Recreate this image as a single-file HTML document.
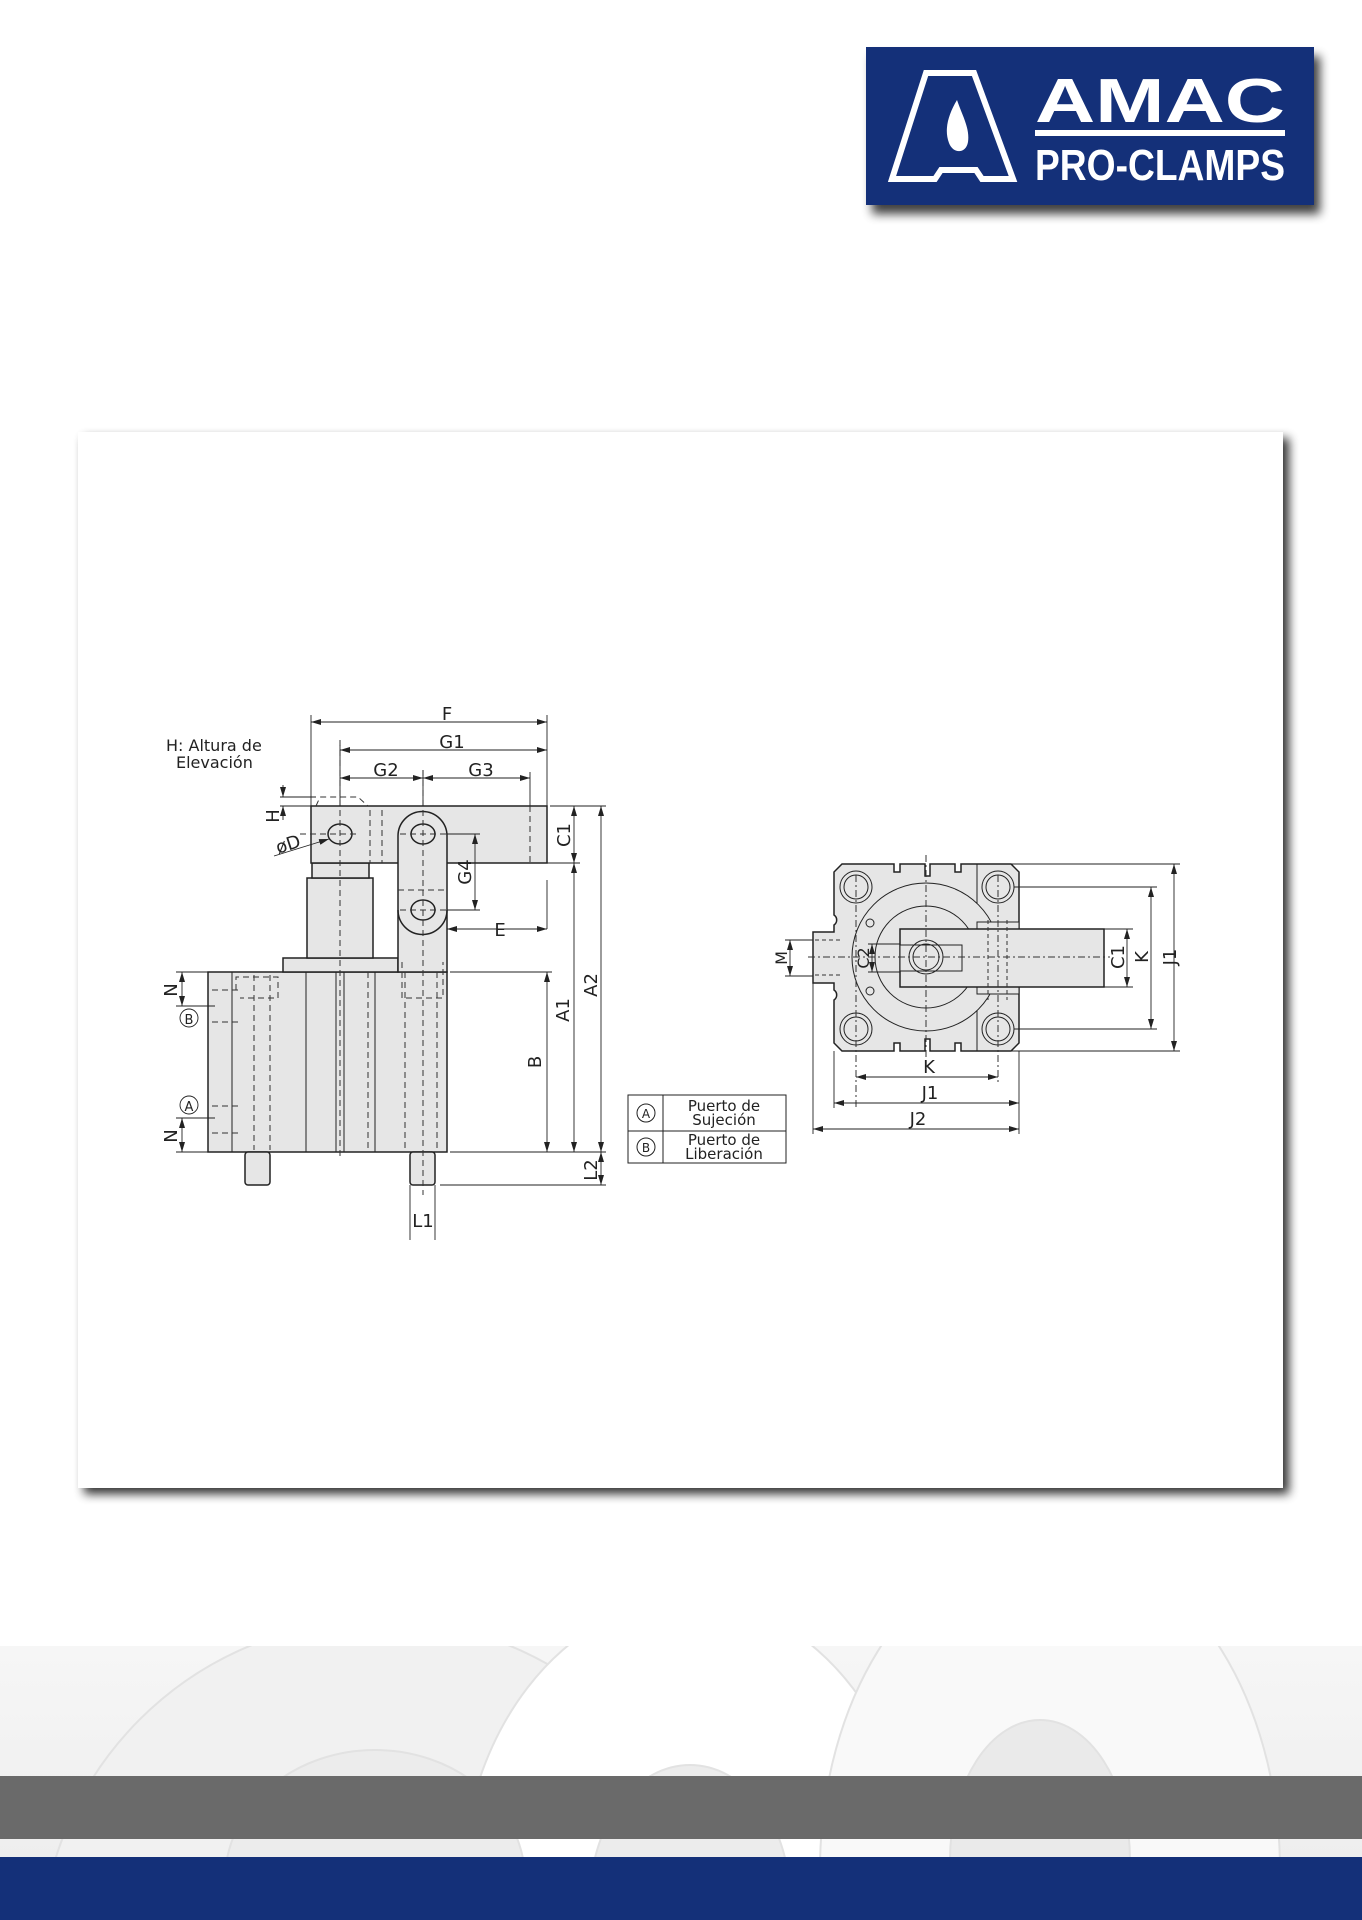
<!DOCTYPE html>
<html><head><meta charset="utf-8"><style>
html,body{margin:0;padding:0;background:#fff;}
body{width:1362px;height:1920px;position:relative;overflow:hidden;font-family:"Liberation Sans",sans-serif;}
svg{display:block;}
svg text{font-family:"DejaVu Sans","Liberation Sans",sans-serif;fill:#222;}
</style></head><body>
<svg width="1362" height="1920" viewBox="0 0 1362 1920" xmlns="http://www.w3.org/2000/svg">
<defs>
<marker id="a" viewBox="0 0 10 6" refX="10" refY="3" markerWidth="10" markerHeight="6" orient="auto-start-reverse" markerUnits="userSpaceOnUse"><path d="M0,0L10,3L0,6z" fill="#222"/></marker>
<filter id="sh" x="-10%" y="-10%" width="130%" height="140%"><feGaussianBlur stdDeviation="5"/></filter>
<linearGradient id="bg" x1="0" y1="0" x2="0" y2="1"><stop offset="0" stop-color="#f6f6f6"/><stop offset="1" stop-color="#ececec"/></linearGradient>
<clipPath id="bc"><rect x="0" y="1646" width="1362" height="274"/></clipPath>
</defs>
<!-- bottom decoration -->
<rect x="0" y="1646" width="1362" height="274" fill="url(#bg)"/>
<g fill="#fff" stroke="#e2e2e2" stroke-width="2" clip-path="url(#bc)">
<ellipse cx="380" cy="1960" rx="340" ry="340" fill="#f1f1f1"/>
<ellipse cx="690" cy="1900" rx="230" ry="300"/>
<ellipse cx="690" cy="1900" rx="100" ry="135" fill="#ececec"/>
<ellipse cx="1050" cy="1870" rx="230" ry="330" fill="#f9f9f9"/>
<ellipse cx="375" cy="1880" rx="150" ry="130" fill="#ececec"/>
<ellipse cx="1040" cy="1860" rx="90" ry="140" fill="#eaeaea"/>
</g>
<rect x="0" y="1776" width="1362" height="63" fill="#6a6a6a"/>
<rect x="0" y="1857" width="1362" height="63" fill="#143079"/>

<!-- logo -->
<rect x="872" y="56" width="448" height="158" fill="#000" opacity="0.75" filter="url(#sh)"/>
<rect x="866" y="47" width="448" height="158" fill="#143079"/>
<path d="M926,73 L974,73 L1013,179 L982,179 L976,170 L941,170 L935,179 L892,179 Z" fill="none" stroke="#fff" stroke-width="6"/>
<path d="M957,100 C948,115 944,130 949,143 C953,154 966,154 968,142 C970,128 962,115 957,100 Z" fill="#fff"/>
<text x="1035" y="122" style="font-family:'Liberation Sans',sans-serif;font-weight:bold;font-size:62px;fill:#fff" textLength="250" lengthAdjust="spacingAndGlyphs">AMAC</text>
<rect x="1035" y="130" width="250" height="6" fill="#fff"/>
<text x="1035" y="180" style="font-family:'Liberation Sans',sans-serif;font-weight:bold;font-size:44px;fill:#fff" textLength="250" lengthAdjust="spacingAndGlyphs">PRO-CLAMPS</text>

<!-- panel -->
<rect x="84" y="438" width="1205" height="1056" fill="#000" opacity="0.8" filter="url(#sh)"/>
<rect x="78" y="432" width="1205" height="1056" fill="#fff"/>

<!-- LEFT VIEW -->
<g stroke="#222" stroke-width="1.5" fill="#e6e6e6">
<rect x="208" y="972" width="239" height="180"/>
<rect x="283" y="958" width="115" height="14"/>
<rect x="307" y="878" width="66" height="80"/>
<rect x="312" y="863" width="57" height="15"/>
<rect x="311" y="806" width="236" height="57"/>
<path d="M398,972 L398,836 A24.5,24.5 0 0 1 447,836 L447,972 Z"/>
<path d="M398,910 A24.5,24.5 0 0 0 447,910" fill="none"/>
<rect x="245" y="1152" width="25" height="33" rx="3"/>
<rect x="410" y="1152" width="25" height="33" rx="3"/>
<ellipse cx="340" cy="834" rx="12" ry="10"/>
<ellipse cx="423" cy="834" rx="12" ry="10"/>
<ellipse cx="423" cy="910" rx="12" ry="10"/>
</g>
<g stroke="#222" stroke-width="1" fill="none">
<line x1="232" y1="972" x2="232" y2="1152"/><line x1="306" y1="972" x2="306" y2="1152"/>
<line x1="336" y1="972" x2="336" y2="1152"/><line x1="344" y1="972" x2="344" y2="1152"/>
<line x1="375" y1="972" x2="375" y2="1152"/>
</g>
<g stroke="#333" stroke-width="1" fill="none" stroke-dasharray="6,4">
<line x1="340" y1="740" x2="340" y2="1160"/><line x1="423" y1="770" x2="423" y2="1195"/>
<line x1="254" y1="975" x2="254" y2="1150"/><line x1="270" y1="975" x2="270" y2="1150"/>
<line x1="405" y1="972" x2="405" y2="1150"/><line x1="437" y1="972" x2="437" y2="1150"/>
<line x1="368" y1="972" x2="368" y2="1150"/>
<path d="M236,990 L236,977 L278,977 L278,998 L240,998"/>
<path d="M402,962 L402,998 L443,998 L443,962"/>
<line x1="212" y1="990" x2="240" y2="990"/><line x1="212" y1="1022" x2="240" y2="1022"/>
<line x1="212" y1="1106" x2="240" y2="1106"/><line x1="212" y1="1133" x2="240" y2="1133"/>
<path d="M316,806 L320,797 L358,797 L368,806"/>
<line x1="370" y1="810" x2="370" y2="863"/><line x1="382" y1="810" x2="382" y2="863"/>
<line x1="530" y1="806" x2="530" y2="863"/>
<line x1="398" y1="890" x2="447" y2="890"/>
<line x1="300" y1="834" x2="360" y2="834"/><line x1="400" y1="834" x2="450" y2="834"/>
<line x1="400" y1="910" x2="450" y2="910"/>
</g>
<!-- dims left -->
<g stroke="#222" stroke-width="0.9" fill="none">
<line x1="311" y1="715" x2="311" y2="806"/><line x1="547" y1="715" x2="547" y2="806"/>
<line x1="340" y1="745" x2="340" y2="806"/><line x1="423" y1="770" x2="423" y2="806"/>
<line x1="530" y1="772" x2="530" y2="806"/>
<line x1="550" y1="806" x2="606" y2="806"/><line x1="450" y1="863" x2="580" y2="863"/>
<line x1="450" y1="972" x2="552" y2="972"/><line x1="450" y1="1152" x2="606" y2="1152"/>
<line x1="440" y1="1185" x2="606" y2="1185"/>
<line x1="547" y1="880" x2="547" y2="929"/>
<line x1="447" y1="834" x2="480" y2="834"/><line x1="447" y1="910" x2="480" y2="910"/>
<line x1="280" y1="797" x2="316" y2="797"/><line x1="280" y1="806" x2="311" y2="806"/>
<line x1="176" y1="972" x2="208" y2="972"/><line x1="176" y1="1006" x2="215" y2="1006"/>
<line x1="176" y1="1118" x2="215" y2="1118"/><line x1="176" y1="1152" x2="208" y2="1152"/>
<line x1="410" y1="1185" x2="410" y2="1240"/><line x1="435" y1="1185" x2="435" y2="1240"/>
<line x1="311" y1="722" x2="547" y2="722" marker-start="url(#a)" marker-end="url(#a)"/>
<line x1="340" y1="750" x2="547" y2="750" marker-start="url(#a)" marker-end="url(#a)"/>
<line x1="340" y1="778" x2="423" y2="778" marker-start="url(#a)" marker-end="url(#a)"/>
<line x1="423" y1="778" x2="530" y2="778" marker-start="url(#a)" marker-end="url(#a)"/>
<line x1="574" y1="806" x2="574" y2="863" marker-start="url(#a)" marker-end="url(#a)"/>
<line x1="574" y1="863" x2="574" y2="1152" marker-start="url(#a)" marker-end="url(#a)"/>
<line x1="547" y1="972" x2="547" y2="1152" marker-start="url(#a)" marker-end="url(#a)"/>
<line x1="601" y1="806" x2="601" y2="1152" marker-start="url(#a)" marker-end="url(#a)"/>
<line x1="601" y1="1152" x2="601" y2="1185" marker-start="url(#a)" marker-end="url(#a)"/>
<line x1="475" y1="834" x2="475" y2="910" marker-start="url(#a)" marker-end="url(#a)"/>
<line x1="447" y1="929" x2="547" y2="929" marker-start="url(#a)" marker-end="url(#a)"/>
<line x1="182" y1="972" x2="182" y2="1006" marker-start="url(#a)" marker-end="url(#a)"/>
<line x1="182" y1="1118" x2="182" y2="1152" marker-start="url(#a)" marker-end="url(#a)"/>
<line x1="283" y1="785" x2="283" y2="797" marker-end="url(#a)"/>
<line x1="283" y1="820" x2="283" y2="806" marker-end="url(#a)"/>
<line x1="274" y1="856" x2="329" y2="839" marker-end="url(#a)"/>
<circle cx="189" cy="1018" r="9"/><circle cx="189" cy="1105" r="9"/>
</g>
<g font-size="18" text-anchor="middle">
<text x="447" y="720">F</text><text x="452" y="748">G1</text>
<text x="386" y="776">G2</text><text x="481" y="776">G3</text>
<text x="500" y="936">E</text><text x="423" y="1227">L1</text>
<text transform="translate(570,835) rotate(-90)">C1</text>
<text transform="translate(569,1010) rotate(-90)">A1</text>
<text transform="translate(597,985) rotate(-90)">A2</text>
<text transform="translate(541,1062) rotate(-90)">B</text>
<text transform="translate(471,872) rotate(-90)">G4</text>
<text transform="translate(597,1170) rotate(-90)">L2</text>
<text transform="translate(279,816) rotate(-90)">H</text>
<text transform="translate(177,990) rotate(-90)">N</text>
<text transform="translate(177,1136) rotate(-90)">N</text>
<text transform="translate(290,850) rotate(-18)">øD</text>
<text x="189" y="1024" font-size="13">B</text><text x="189" y="1111" font-size="13">A</text>
</g>
<text x="166" y="751" font-size="16">H: Altura de</text>
<text x="176" y="768" font-size="16">Elevación</text>

<!-- RIGHT VIEW -->
<g stroke="#222" stroke-width="1.5" fill="#e6e6e6">
<path d="M842,864 L894,864 L894,872 L900,872 L900,864 L925,864 L925,876 L930,876 L930,864 L955,864 L955,872 L961,872 L961,864 L1011,864 L1019,872 L1019,1043 L1011,1051 L961,1051 L961,1043 L955,1043 L955,1051 L930,1051 L930,1039 L925,1039 L925,1051 L900,1051 L900,1043 L894,1043 L894,1051 L842,1051 L834,1043 L834,1000 A6,6 0 0 0 834,990 L834,983 L813,983 L813,932 L834,932 L834,925 A6,6 0 0 0 834,915 L834,872 Z"/>
<line x1="977" y1="864" x2="977" y2="1051" stroke-width="1"/>
<circle cx="926" cy="957" r="74" fill="#e6e6e6" stroke-width="1"/>
<circle cx="926" cy="957" r="51" fill="none" stroke-width="1"/>
<circle cx="870" cy="923" r="4" fill="none" stroke-width="1"/><circle cx="870" cy="991" r="4" fill="none" stroke-width="1"/>
<rect x="977" y="922" width="42" height="72" fill="#e6e6e6" stroke-width="1"/>
<rect x="900" y="929" width="204" height="58"/>
<rect x="900" y="945" width="62" height="26" stroke-width="1"/>
<circle cx="926" cy="957" r="13" fill="none" stroke-width="1"/>
<circle cx="926" cy="957" r="17" fill="none" stroke-width="1"/>
<g fill="none" stroke-width="1">
<circle cx="856" cy="887" r="16"/><circle cx="856" cy="887" r="12"/>
<circle cx="998" cy="887" r="16"/><circle cx="998" cy="887" r="12"/>
<circle cx="856" cy="1029" r="16"/><circle cx="856" cy="1029" r="12"/>
<circle cx="998" cy="1029" r="16"/><circle cx="998" cy="1029" r="12"/>
</g>
</g>
<g stroke="#333" stroke-width="1" fill="none" stroke-dasharray="7,3,2,3">
<line x1="926" y1="855" x2="926" y2="1060"/><line x1="808" y1="957" x2="1110" y2="957"/>
<line x1="856" y1="875" x2="856" y2="1110"/><line x1="998" y1="875" x2="998" y2="1085"/>
</g>
<g stroke="#333" stroke-width="1" fill="none" stroke-dasharray="4,3">
<line x1="988" y1="920" x2="988" y2="1000"/><line x1="1007" y1="920" x2="1007" y2="1000"/>
<line x1="815" y1="940" x2="840" y2="940"/><line x1="815" y1="975" x2="840" y2="975"/>
</g>
<g stroke="#222" stroke-width="0.9" fill="none">
<line x1="1011" y1="864" x2="1180" y2="864"/><line x1="1011" y1="1051" x2="1180" y2="1051"/>
<line x1="1014" y1="887" x2="1157" y2="887"/><line x1="1014" y1="1029" x2="1157" y2="1029"/>
<line x1="1104" y1="929" x2="1133" y2="929"/><line x1="1104" y1="987" x2="1133" y2="987"/>
<line x1="785" y1="940" x2="813" y2="940"/><line x1="785" y1="976" x2="813" y2="976"/>
<line x1="868" y1="944" x2="900" y2="944"/><line x1="868" y1="972" x2="900" y2="972"/>
<line x1="834" y1="1051" x2="834" y2="1108"/><line x1="1019" y1="1051" x2="1019" y2="1134"/>
<line x1="813" y1="983" x2="813" y2="1134"/>
<line x1="1174" y1="864" x2="1174" y2="1051" marker-start="url(#a)" marker-end="url(#a)"/>
<line x1="1151" y1="887" x2="1151" y2="1029" marker-start="url(#a)" marker-end="url(#a)"/>
<line x1="1127" y1="929" x2="1127" y2="987" marker-start="url(#a)" marker-end="url(#a)"/>
<line x1="790" y1="940" x2="790" y2="976" marker-start="url(#a)" marker-end="url(#a)"/>
<line x1="872" y1="944" x2="872" y2="972" marker-start="url(#a)" marker-end="url(#a)"/>
<line x1="856" y1="1077" x2="998" y2="1077" marker-start="url(#a)" marker-end="url(#a)"/>
<line x1="834" y1="1103" x2="1019" y2="1103" marker-start="url(#a)" marker-end="url(#a)"/>
<line x1="813" y1="1129" x2="1019" y2="1129" marker-start="url(#a)" marker-end="url(#a)"/>
</g>
<g font-size="18" text-anchor="middle">
<text x="929" y="1073">K</text><text x="930" y="1099">J1</text><text x="918" y="1125">J2</text>
<text transform="translate(1176,957) rotate(-90)">J1</text>
<text transform="translate(1148,957) rotate(-90)">K</text>
<text transform="translate(1124,957) rotate(-90)">C1</text>
<text transform="translate(787,958) rotate(-90)" font-size="16">M</text>
<text transform="translate(869,958) rotate(-90)" font-size="16">C2</text>
</g>
<!-- legend -->
<g stroke="#222" stroke-width="1" fill="none">
<rect x="628" y="1095" width="158" height="68"/>
<line x1="628" y1="1131" x2="786" y2="1131"/><line x1="663" y1="1095" x2="663" y2="1163"/>
<circle cx="646" cy="1113" r="9"/><circle cx="646" cy="1147" r="9"/>
</g>
<g text-anchor="middle">
<text x="646" y="1118" font-size="12">A</text><text x="646" y="1152" font-size="12">B</text>
<text x="724" y="1111" font-size="15">Puerto de</text><text x="724" y="1125" font-size="15">Sujeción</text>
<text x="724" y="1145" font-size="15">Puerto de</text><text x="724" y="1159" font-size="15">Liberación</text>
</g>
</svg>
</body></html>
